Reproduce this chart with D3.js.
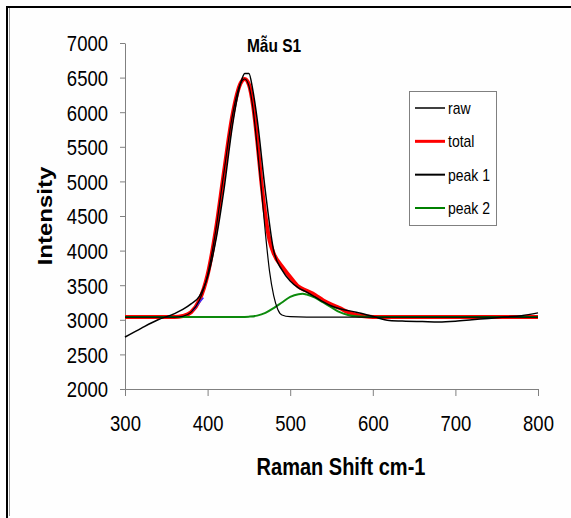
<!DOCTYPE html>
<html>
<head>
<meta charset="utf-8">
<script src="https://cdn.jsdelivr.net/npm/d3@7"></script>
<style>
  body { margin: 0; background: #fff; }
  text { font-family: "Liberation Sans", Arial, sans-serif; fill: #000; }
</style>
</head>
<body>
<div id="wrapper"></div>
<script>
// values
const rawX = [300, 320, 340, 360, 370, 380, 390, 400, 410, 420, 430, 440, 445, 450, 455, 460, 470, 480, 490, 500, 510, 520, 530, 540, 550, 560, 580, 600, 620, 640, 660, 680, 700, 720, 740, 760, 780, 800];
const rawY = [2750, 2880, 3000, 3090, 3150, 3230, 3340, 3620, 4150, 4900, 5800, 6420, 6560, 6560, 6300, 5900, 4850, 4000, 3720, 3560, 3460, 3400, 3330, 3260, 3200, 3160, 3110, 3050, 2990, 2980, 2975, 2970, 2980, 3000, 3020, 3040, 3060, 3100];

const totalX = [300, 360, 370, 380, 390, 400, 410, 420, 430, 440, 445, 450, 455, 460, 465, 470, 475, 480, 490, 500, 510, 520, 530, 540, 550, 560, 570, 580, 590, 600, 700, 800];
const totalY = [3040, 3040, 3055, 3110, 3280, 3650, 4300, 5150, 5950, 6420, 6480, 6400, 6100, 5600, 5000, 4500, 4150, 3960, 3770, 3620, 3480, 3420, 3360, 3280, 3220, 3170, 3110, 3070, 3050, 3040, 3040, 3040];

const peak1X = [300, 360, 370, 380, 390, 400, 410, 420, 430, 440, 445, 450, 455, 460, 465, 470, 475, 480, 485, 490, 500, 520, 800];
const peak1Y = [3040, 3040, 3050, 3110, 3280, 3650, 4300, 5150, 5950, 6420, 6480, 6380, 6050, 5500, 4900, 4250, 3700, 3350, 3150, 3070, 3045, 3040, 3040];

const peak2X = [300, 440, 450, 460, 470, 480, 490, 500, 510, 515, 520, 530, 540, 550, 560, 570, 580, 600, 800];
const peak2Y = [3040, 3040, 3045, 3060, 3100, 3170, 3250, 3330, 3370, 3375, 3365, 3320, 3250, 3180, 3110, 3070, 3050, 3040, 3040];

const fitX = [382, 388, 395];
const fitY = [3130, 3220, 3320];

const xTicks = [300, 400, 500, 600, 700, 800];
const yTicks = [2000, 2500, 3000, 3500, 4000, 4500, 5000, 5500, 6000, 6500, 7000];
const legendLabels = ["raw", "total", "peak 1", "peak 2"];
const legendColors = ["#000000", "#ff0000", "#000000", "#008000"];
const legendWidths = [1.5, 3, 2, 2];

const width = 571;
const height = 518;
let dimensions = {
  width: width,
  height: height,
  margin: { top: 43, right: 33, bottom: 129, left: 125 },
};

const svg = d3
  .select("#wrapper")
  .append("svg")
  .attr("width", dimensions.width)
  .attr("height", dimensions.height);

svg.append("rect").attr("width", width).attr("height", height).attr("fill", "#fefefe");

// outer frame (left and top only)
svg.append("line").attr("x1", 7).attr("x2", 7).attr("y1", 7).attr("y2", height)
  .attr("stroke", "#000").attr("stroke-width", 2);
svg.append("line").attr("x1", 9.5).attr("x2", 9.5).attr("y1", 8).attr("y2", height - 2)
  .attr("stroke", "#999").attr("stroke-width", 1);
svg.append("line").attr("x1", 6).attr("x2", width).attr("y1", 7).attr("y2", 7)
  .attr("stroke", "#000").attr("stroke-width", 2);

const xScale = d3.scaleLinear()
  .domain([300, 800])
  .range([dimensions.margin.left, width - dimensions.margin.right]);
const yScale = d3.scaleLinear()
  .domain([2000, 7000])
  .range([height - dimensions.margin.bottom, dimensions.margin.top]);

const sy = 1.2; // picture is stretched vertically

// axes
const xAxis = svg.append("g")
  .attr("transform", `translate(0,${yScale(2000)})`)
  .call(d3.axisBottom(xScale).tickValues(xTicks).tickFormat(d3.format("d")).tickSize(7).tickSizeOuter(0));
const yAxis = svg.append("g")
  .attr("transform", `translate(${xScale(300)},0)`)
  .call(d3.axisLeft(yScale).tickValues(yTicks).tickFormat(d3.format("d")).tickSize(5).tickSizeOuter(0));

[xAxis, yAxis].forEach((a) => {
  a.select(".domain").attr("stroke", "#808080");
  a.selectAll(".tick line").attr("stroke", "#808080");
  a.selectAll("text")
    .attr("font-family", "Liberation Sans, Arial, sans-serif")
    .attr("font-size", 18.5)
    .attr("fill", "#000")
    .attr("dy", null);
});
xAxis.selectAll("text").attr("y", 35).attr("transform", `scale(1,${sy})`);
yAxis.selectAll("text").attr("x", -17).attr("y", 6.6).attr("transform", `scale(1,${sy})`);

// series
const zip = (xs, ys) => xs.map((d, i) => [d, ys[i]]);
const line = d3.line()
  .x((d) => xScale(d[0]))
  .y((d) => yScale(d[1]))
  .curve(d3.curveMonotoneX);

const series = [
  { data: zip(totalX, totalY), color: "#ff0000", w: 4 },
  { data: zip(fitX, fitY), color: "#3a2cff", w: 1.5 },
  { data: zip(peak2X, peak2Y), color: "#0c8a0c", w: 2 },
  { data: zip(peak1X, peak1Y), color: "#000000", w: 1.2 },
  { data: zip(rawX, rawY), color: "#000000", w: 1.5 },
];
series.forEach((s) => {
  svg.append("path")
    .attr("d", line(s.data))
    .attr("fill", "none")
    .attr("stroke", s.color)
    .attr("stroke-width", s.w)
    .attr("stroke-linejoin", "round");
});

// title
svg.append("text")
  .attr("transform", `translate(274,52) scale(1,${sy})`)
  .attr("text-anchor", "middle")
  .attr("font-weight", "bold")
  .attr("font-size", 15.5)
  .text("Mẫu S1");

// axis titles
svg.append("text")
  .attr("transform", `translate(341,475) scale(1,${sy})`)
  .attr("text-anchor", "middle")
  .attr("font-weight", "bold")
  .attr("font-size", 20)
  .text("Raman Shift cm-1");
svg.append("text")
  .attr("transform", `translate(52,216) rotate(-90) scale(${sy},1)`)
  .attr("text-anchor", "middle")
  .attr("font-weight", "bold")
  .attr("font-size", 20)
  .text("Intensity");

// legend
const legend = svg.append("g");
legend.append("rect")
  .attr("x", 409.5).attr("y", 91.5).attr("width", 87).attr("height", 134)
  .attr("fill", "#fff").attr("stroke", "#808080").attr("stroke-width", 1);
const legendY = d3.scalePoint().domain(legendLabels).range([108, 208]);
legendLabels.forEach((lab, i) => {
  const yy = legendY(lab);
  legend.append("line")
    .attr("x1", 415).attr("x2", 445).attr("y1", yy).attr("y2", yy)
    .attr("stroke", legendColors[i]).attr("stroke-width", legendWidths[i]);
  legend.append("text")
    .attr("transform", `translate(448,${yy + 6}) scale(1,${sy})`)
    .attr("font-size", 14)
    .text(lab);
});
</script>
</body>
</html>
